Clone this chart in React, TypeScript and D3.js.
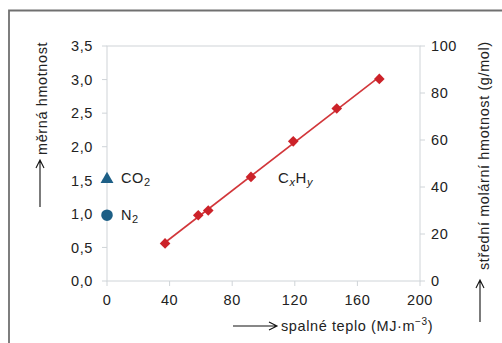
import * as d3 from "d3";

// hydrocarbons CxHy: heat of combustion (MJ/m3) vs relative density
const hcHeat = [37.1, 58.3, 64.7, 92.0, 119.0, 146.8, 174.0];
const hcDensity = [0.56, 0.98, 1.05, 1.55, 2.08, 2.57, 3.01];

// inert gases sit on x = 0
const inertNames = ["CO", "N"];
const inertSubs = ["2", "2"];
const inertHeat = [0, 0];
const inertDensity = [1.53, 0.98];
const inertShapes = ["triangle", "circle"];

const xTicks = [0, 40, 80, 120, 160, 200];
const yTicks = [0, 0.5, 1, 1.5, 2, 2.5, 3, 3.5];
const y2Ticks = [0, 20, 40, 60, 80, 100];

const W = 502;
const H = 343;
const left = 107, right = 420, top = 46, bottom = 281;

const font = "'Liberation Sans', Arial, Helvetica, sans-serif";
const fs = 14.5;
const ls = 0.6;
const red = "#cc2229";
const blue = "#1d5f86";
const grid = "#cfd4d8";

const locale = d3.formatLocale({ decimal: ",", thousands: " ", grouping: [3], currency: ["", ""] });
const fmt1 = locale.format(".1f");

// open arrow: line with a chevron head at (x2,y2)
function arrow(x1: number, y1: number, x2: number, y2: number) {
  const a = Math.atan2(y2 - y1, x2 - x1);
  const L = 8, w = 4;
  const bx = x2 - L * Math.cos(a), by = y2 - L * Math.sin(a);
  const px = -Math.sin(a) * w, py = Math.cos(a) * w;
  return `M${x1},${y1}L${x2},${y2}M${bx + px},${by + py}L${x2},${y2}L${bx - px},${by - py}`;
}

export default function App() {
  const x = d3.scaleLinear().domain([0, 200]).range([left, right]);
  const y = d3.scaleLinear().domain([0, 3.5]).range([bottom, top]);
  const y2 = d3.scaleLinear().domain([0, 100]).range([bottom, top]);

  // least squares line through the hydrocarbon points
  const mx = d3.mean(hcHeat)!;
  const my = d3.mean(hcDensity)!;
  const slope =
    d3.sum(hcHeat, (v, i) => (v - mx) * (hcDensity[i] - my)) /
    d3.sum(hcHeat, (v) => (v - mx) * (v - mx));
  const x0 = d3.min(hcHeat)!, x1 = d3.max(hcHeat)!;
  const fit = d3.line<number>().x((v) => x(v)).y((v) => y(my + slope * (v - mx)))([x0, x1]);

  const diamond = d3.symbol(d3.symbolDiamond2, 72)();
  const tri = d3.symbol(d3.symbolTriangle, 72)();
  const circ = d3.symbol(d3.symbolCircle, 105)();

  const textStyle = { fontFamily: font, fontSize: fs, letterSpacing: ls, fill: "#222" };

  return (
    <svg width={W} height={H} style={{ position: "absolute", left: 0, top: 0 }}>
      <rect width={W} height={H} fill="#fff" />
      <path d={`M9,${H}V10.5H${W}`} fill="none" stroke="#707070" strokeWidth={1.8} />

      {/* plot frame */}
      <rect x={left} y={top} width={right - left} height={bottom - top} fill="none" stroke={grid} strokeWidth={1} />

      {/* left axis */}
      {yTicks.map((t) => (
        <g key={"y" + t}>
          <line x1={left - 5} x2={left} y1={y(t)} y2={y(t)} stroke={grid} />
          <text x={93} y={y(t)} dy="0.36em" textAnchor="end" style={textStyle}>
            {fmt1(t)}
          </text>
        </g>
      ))}
      {/* right axis */}
      {y2Ticks.map((t) => (
        <g key={"r" + t}>
          <line x1={right} x2={right + 5} y1={y2(t)} y2={y2(t)} stroke={grid} />
          <text x={431} y={y2(t)} dy="0.36em" textAnchor="start" style={textStyle}>
            {t}
          </text>
        </g>
      ))}
      {/* bottom axis */}
      {xTicks.map((t) => (
        <g key={"x" + t}>
          <line x1={x(t)} x2={x(t)} y1={bottom} y2={bottom + 5} stroke={grid} />
          <text x={x(t)} y={305} textAnchor="middle" style={textStyle}>
            {t}
          </text>
        </g>
      ))}

      {/* fit line and hydrocarbons */}
      <path d={fit ?? ""} fill="none" stroke="#d2363a" strokeWidth={1.6} />
      {hcHeat.map((h, i) => (
        <path key={"d" + i} d={diamond ?? ""} transform={`translate(${x(h)},${y(hcDensity[i])})`} fill={red} />
      ))}
      <text x={278} y={178} dy="0.36em" style={{ ...textStyle, fontSize: 15 }}>
        C
        <tspan fontStyle="italic" fontSize={11} dy={3}>x</tspan>
        <tspan dy={-3}>H</tspan>
        <tspan fontStyle="italic" fontSize={11} dy={3}>y</tspan>
      </text>

      {/* inert gases */}
      {inertNames.map((n, i) => (
        <g key={n}>
          <path
            d={(inertShapes[i] === "triangle" ? tri : circ) ?? ""}
            transform={`translate(${x(inertHeat[i])},${y(inertDensity[i]) + (inertShapes[i] === "triangle" ? 1 : 0)})`}
            fill={blue}
          />
          <text x={121} y={y(inertDensity[i])} dy="0.36em" style={textStyle}>
            {n}
            <tspan fontSize={11} dy={3}>{inertSubs[i]}</tspan>
          </text>
        </g>
      ))}

      {/* axis titles */}
      <path d={arrow(40, 207, 40, 160)} fill="none" stroke="#111" strokeWidth={1.1} />
      <text transform="translate(46.5,155) rotate(-90)" style={textStyle}>
        měrná hmotnost
      </text>

      <path d={arrow(480, 322, 480, 280)} fill="none" stroke="#111" strokeWidth={1.1} />
      <text transform="translate(488.5,270) rotate(-90)" style={textStyle}>
        střední molární hmotnost (g/mol)
      </text>

      <path d={arrow(233, 326, 277, 326)} fill="none" stroke="#111" strokeWidth={1.1} />
      <text x={281} y={330.5} style={textStyle}>
        spalné teplo (MJ·m
        <tspan fontSize={10} dy={-6}>−3</tspan>
        <tspan dy={6}>)</tspan>
      </text>
    </svg>
  );
}
